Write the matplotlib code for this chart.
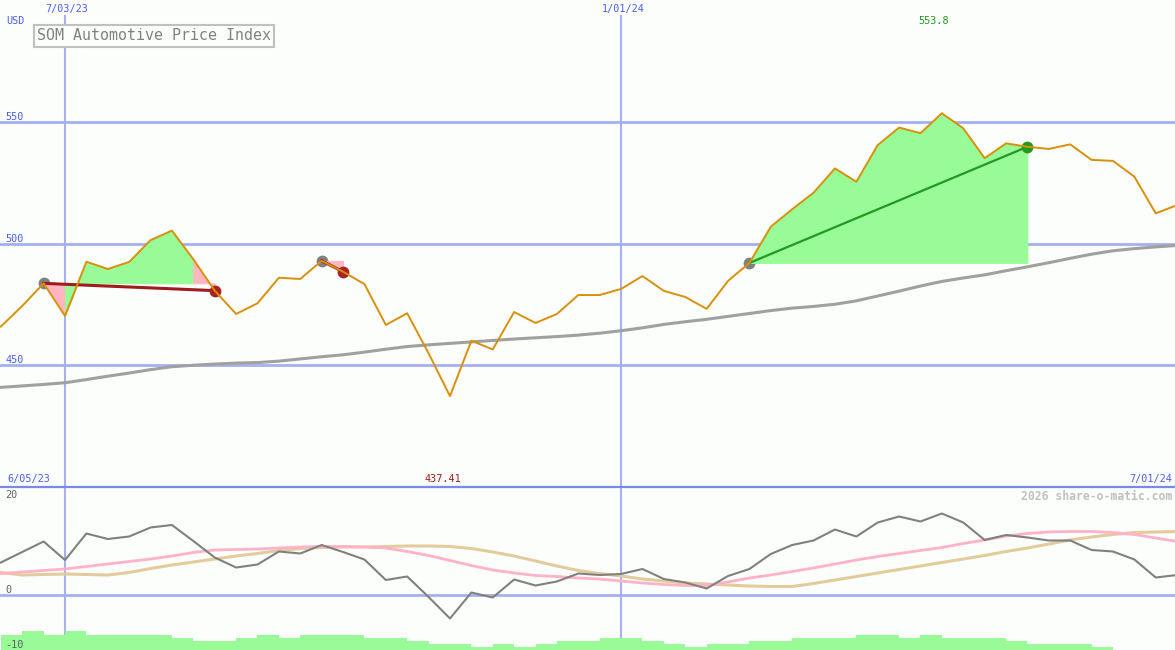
import numpy as np
import pandas as pd
import matplotlib
matplotlib.use('Agg')
import matplotlib.pyplot as plt
from matplotlib.lines import Line2D
from matplotlib.transforms import offset_copy

# weekly closes, 12 Jun 2023 .. 1 Jul 2024
weeks = pd.date_range('2023-06-12', '2024-07-01', freq='7D')

price = [466.0, 474.5, 483.8, 470.4, 492.7, 489.7, 492.6, 501.6, 505.5, 493.7,
         480.8, 471.2, 475.6, 486.1, 485.6, 493.1, 488.6, 483.5, 466.7, 471.5,
         455.0, 437.41, 460.2, 456.6, 472.0, 467.5, 471.2, 479.0, 479.0, 481.5,
         486.8, 480.7, 478.2, 473.3, 484.8, 492.2, 507.1, 514.3, 521.1, 531.1,
         525.6, 540.7, 547.9, 545.6, 553.8, 547.6, 535.3, 541.4, 540.0, 539.1,
         541.0, 534.6, 534.2, 527.7, 512.6, 516.0]

ma_long = [441.0, 441.6, 442.2, 442.9, 444.2, 445.6, 446.9, 448.3, 449.5, 450.1,
           450.6, 451.0, 451.2, 451.8, 452.7, 453.6, 454.4, 455.5, 456.7, 457.8,
           458.5, 459.1, 459.7, 460.3, 460.9, 461.4, 461.9, 462.5, 463.3, 464.3,
           465.5, 466.9, 468.0, 469.0, 470.2, 471.4, 472.6, 473.6, 474.3, 475.2,
           476.6, 478.6, 480.6, 482.7, 484.6, 486.0, 487.3, 489.0, 490.6, 492.3,
           494.1, 495.8, 497.2, 498.1, 498.8, 499.4]

# lower panel indicators
momentum = [6.5, 8.6, 10.7, 7.0, 12.3, 11.2, 11.7, 13.5, 14.0, 10.8,
            7.5, 5.5, 6.1, 8.7, 8.3, 10.0, 8.6, 7.1, 3.0, 3.7,
            -0.4, -4.7, 0.5, -0.5, 3.1, 1.9, 2.7, 4.3, 4.0, 4.2,
            5.2, 3.2, 2.5, 1.3, 3.8, 5.2, 8.2, 10.0, 10.9, 13.1,
            11.7, 14.5, 15.7, 14.7, 16.3, 14.5, 11.0, 12.0, 11.5, 10.9,
            10.9, 9.0, 8.7, 7.1, 3.5, 4.0]

signal_fast = [4.3, 4.6, 4.9, 5.2, 5.7, 6.2, 6.7, 7.2, 7.8, 8.5,
               9.0, 9.1, 9.2, 9.4, 9.6, 9.7, 9.7, 9.6, 9.4, 8.7,
               7.9, 6.9, 5.9, 5.0, 4.4, 3.9, 3.7, 3.4, 3.2, 2.8,
               2.4, 2.1, 1.9, 1.9, 2.6, 3.4, 4.0, 4.7, 5.4, 6.2,
               7.0, 7.7, 8.3, 8.9, 9.5, 10.3, 11.0, 11.8, 12.3, 12.6,
               12.7, 12.7, 12.5, 12.1, 11.4, 10.7]

signal_slow = [4.5, 4.0, 4.1, 4.2, 4.1, 4.0, 4.5, 5.3, 6.0, 6.6,
               7.2, 7.8, 8.3, 8.9, 9.3, 9.5, 9.6, 9.6, 9.7, 9.8,
               9.8, 9.7, 9.3, 8.6, 7.8, 6.8, 5.8, 4.9, 4.3, 3.8,
               3.2, 2.8, 2.4, 2.2, 2.0, 1.8, 1.7, 1.7, 2.3, 3.0,
               3.7, 4.4, 5.1, 5.8, 6.5, 7.2, 7.9, 8.7, 9.4, 10.2,
               11.0, 11.6, 12.1, 12.5, 12.6, 12.7]

volume = [5, 6.3, 5, 6.3, 5, 5, 5, 5, 4, 3,
          3, 4, 5, 4, 5, 5, 5, 4, 4, 3,
          2, 2, 1, 2, 1, 2, 3, 3, 4, 4,
          3, 2, 1, 2, 2, 3, 3, 4, 4, 4,
          5, 5, 4, 5, 4, 4, 4, 3, 2, 2,
          2, 1, 0, 0, 0, 0]

# (entry week, exit week) of the marked trades
trades = [(2, 10), (15, 16), (35, 48)]

price_grid = [450, 500, 550]
osc_labels = [(20, 'center'), (0, 'bottom'), (-10, 'center')]
marked_dates = ['2023-07-03', '2024-01-01']

W, H = 1175, 650
BG = '#fcfefc'
GRID = '#a4b0f0'
BLUE_TXT = '#4a5cf0'
plt.rcParams['font.family'] = ['DejaVu Sans Mono']

idx = np.arange(len(price))
xlim = (-0.04, 54.9)

fig = plt.figure(figsize=(W / 100, H / 100), dpi=100, facecolor=BG)
ax = fig.add_axes([0, 163 / H, 1, 487 / H])
ax2 = fig.add_axes([0, 0, 1, 163 / H])
axv = ax2.twinx()
for a in (ax, ax2, axv):
    a.set_axis_off()
    a.set_xlim(*xlim)
ax.set_ylim(400, 600.4)
ax2.set_ylim(-11, 21.6)
axv.set_ylim(0, 163 / 3)

# grid
for lvl in price_grid:
    ax.axhline(lvl, color=GRID, lw=2, zorder=1)
    ax.text(5 / W, lvl, str(lvl), color=BLUE_TXT, fontsize=7.3,
            va='baseline', ha='left',
            transform=offset_copy(ax.get_yaxis_transform(), fig=fig, y=2, units='dots'))
ax2.axhline(0, color=GRID, lw=2, zorder=1)
for d in marked_dates:
    i = weeks.get_loc(pd.Timestamp(d))
    ax.axvline(i, ymax=0.967, color=GRID, lw=1.5, zorder=1)
    ax2.axvline(i, color=GRID, lw=1.5, zorder=1)
    ax.text(i, 1 - 9 / 487, weeks[i].strftime('%-m/%d/%y'), color=BLUE_TXT,
            fontsize=7.3, ha='center', va='center',
            transform=offset_copy(ax.get_xaxis_transform(), fig=fig, x=2, units='dots'))

# main panel
ax.plot(idx, ma_long, color='#a0a0a0', lw=2.2, zorder=1.5)
for s, e in trades:
    level = price[s]
    gain = price[e] >= level
    for k in range(s, e):
        col = '#98fb98' if price[k + 1] >= level else '#ffb6c1'
        ax.fill_between(idx[k:k + 2], price[k:k + 2], level, facecolor=col,
                        edgecolor=col, lw=0.6, zorder=2.5)
    ax.plot(s, level, 'o', color='#808080', ms=8.5, mew=0, zorder=2)
    ax.plot([s, e], [level, price[e]], color='#229922' if gain else '#a01c1c',
            lw=1.6 if gain else 2.2, zorder=3)
    ax.plot(e, price[e], 'o', color='#229922' if gain else '#aa2222', ms=8.5, mew=0, zorder=3.5)
ax.plot(idx, price, color='#d8900a', lw=1.4, zorder=4)

hi, lo = int(np.argmax(price)), int(np.argmin(price))
ax.text(hi - 0.4, 1 - 21 / 487, f'{price[hi]:g}', color='#229922', fontsize=7.3,
        ha='center', va='center', transform=ax.get_xaxis_transform())
ax.text(lo - 0.35, 8 / 487, f'{price[lo]:g}', color='#a01c1c', fontsize=7.3,
        ha='center', va='center', transform=ax.get_xaxis_transform())

# lower panel
axv.bar(idx, volume, width=1.0, align='edge', color='#98fb98', lw=0, zorder=2)
ax2.plot(idx, signal_slow, color='#e2cc9c', lw=2.2, zorder=2)
ax2.plot(idx, signal_fast, color='#ffb2c8', lw=2.0, zorder=2.2)
ax2.plot(idx, momentum, color='#808080', lw=1.5, zorder=3)
for v, va in osc_labels:
    t = ax2.text(5 / W, v, str(v), color='#606060', fontsize=7.3, ha='left', va=va,
                 transform=ax2.get_yaxis_transform())
    t.remove()
    axv.add_artist(t)
    t.set_zorder(5)

# separator and free labels
fig.add_artist(Line2D([0, 1], [163 / H, 163 / H], transform=fig.transFigure,
                      color='#7788ee', lw=1.6))
fig.text(6 / W, 1 - 21 / H, 'USD', color=BLUE_TXT, fontsize=7.3, va='center')
fig.text(7 / W, 1 - 479 / H, weeks[0].replace(day=5).strftime('%-m/%d/%y'),
         color=BLUE_TXT, fontsize=7.3, va='center')
fig.text(1172 / W, 1 - 479 / H, '7/01/24', color=BLUE_TXT, fontsize=7.3,
         va='center', ha='right')
fig.text(1172 / W, 1 - 496 / H, '2026 share-o-matic.com', color='#c0c0c0',
         fontsize=8.3, fontweight='bold', va='center', ha='right')
fig.text(37 / W, 1 - 36 / H, 'SOM Automotive Price Index', color='#808080',
         fontsize=10.8, va='center', ha='left',
         bbox=dict(boxstyle='square,pad=0.22', fc=BG, ec='#c0c0c0', lw=1.5))

fig.savefig('out.png', dpi=100, facecolor=BG)
